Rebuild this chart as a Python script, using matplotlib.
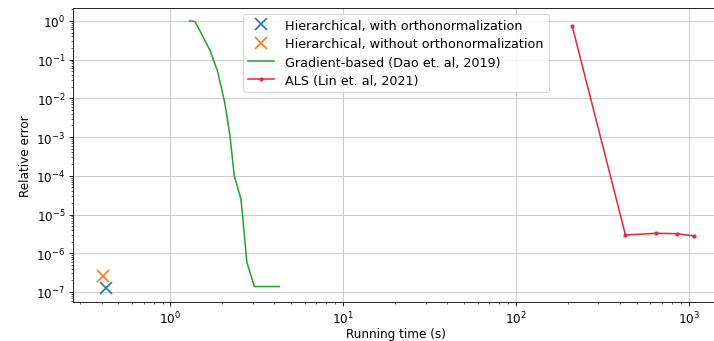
import numpy as np
import matplotlib
matplotlib.use("Agg")
import matplotlib.pyplot as plt
from matplotlib.ticker import LogLocator, NullFormatter

# Hierarchical points
hier_ortho_t = [0.424]
hier_ortho_err = [1.26e-7]
hier_noortho_t = [0.407]
hier_noortho_err = [2.57e-7]

# Gradient-based (Dao et al.)
grad_t = [1.29, 1.386, 1.495, 1.687, 1.87, 2.06, 2.21, 2.34, 2.56, 2.77, 3.06, 4.27]
grad_err = [1.0, 0.96, 0.51, 0.18, 0.052, 0.0079, 1.1e-3, 1.0e-4, 2.5e-5, 5.8e-7, 1.38e-7, 1.38e-7]

# ALS (Lin et al.)
als_t = [212, 431, 644, 853, 1069]
als_err = [0.73, 2.95e-6, 3.27e-6, 3.2e-6, 2.8e-6]

plt.rcParams['font.size'] = 11.5

fig = plt.figure(figsize=(714 / 75, 342 / 75), dpi=75)
ax = fig.add_axes([0.102, 0.114, 0.905, 0.86])

ax.plot(hier_ortho_t, hier_ortho_err, 'x', color='tab:blue', ms=11, mew=1.6,
        label="Hierarchical, with orthonormalization")
ax.plot(hier_noortho_t, hier_noortho_err, 'x', color='tab:orange', ms=11, mew=1.6,
        label="Hierarchical, without orthonormalization")
ax.plot(grad_t, grad_err, '-', color='tab:green', lw=1.5,
        label="Gradient-based (Dao et. al, 2019)")
ax.plot(als_t, als_err, '.-', color='#e6283c', lw=1.5, ms=6,
        label="ALS (Lin et. al, 2021)")

ax.set_xscale('log')
ax.set_yscale('log')
ax.set_xlim(0.272, 1500)
ax.set_ylim(10 ** -7.26, 10 ** 0.336)
ax.yaxis.set_major_locator(LogLocator(base=10, numticks=20))
ax.yaxis.set_minor_locator(LogLocator(base=10, subs=np.arange(2, 10), numticks=20))
ax.yaxis.set_minor_formatter(NullFormatter())
ax.xaxis.set_minor_formatter(NullFormatter())
ax.grid(True, which='major', color='#c4c4c4')
ax.set_xlabel("Running time (s)", labelpad=1)
ax.set_ylabel("Relative error")
ax.legend(loc='upper center', fontsize=12.3, labelspacing=0.42, handletextpad=0.9,
          borderaxespad=0.45)

fig.savefig("out.png", dpi=75)
